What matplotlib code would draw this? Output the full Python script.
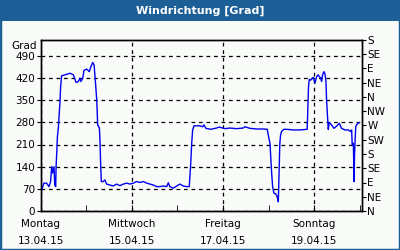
import matplotlib
matplotlib.use("Agg")
import matplotlib.pyplot as plt
from matplotlib.patches import Rectangle
from matplotlib.ticker import MultipleLocator

# time in hours since 13.04.15 00:00, wind direction in degrees (unwrapped)
hours = [0.5, 1.7, 3.1, 4.4, 5.2, 5.8, 6.3, 7.0, 7.4, 7.9, 8.1, 8.4, 8.8, 9.3, 9.8,
         10.2, 10.5, 11.0, 12.8, 15.4, 17.2, 18.6, 19.8, 20.7, 21.1, 22.1, 22.8,
         24.2, 25.6, 26.3, 27.4, 28.1, 28.6, 29.5, 30.0, 30.9, 31.2, 31.6, 31.9,
         32.9, 33.8, 34.7, 36.5, 38.2, 40.0, 41.7, 43.5, 45.3, 47.0, 48.7, 50.5,
         52.3, 54.0, 55.8, 59.3, 61.0, 62.8, 64.5, 66.3, 67.2, 68.0, 69.8, 71.6,
         73.3, 75.0, 76.8, 78.2, 78.9, 79.5, 80.0, 80.7, 83.8, 85.3, 85.9, 87.0,
         89.5, 92.6, 94.0, 97.0, 99.6, 103.2, 106.6, 107.5, 110.2, 113.7, 117.2,
         119.3, 119.8, 120.7, 121.6, 122.1, 122.8, 123.8, 124.5, 125.1, 125.3,
         125.6, 125.9, 126.3, 126.8, 128.0, 129.5, 132.9, 136.5, 140.3, 140.7,
         141.0, 141.4, 142.1, 142.8, 143.5, 144.4, 145.3, 146.1, 146.6, 147.4,
         147.9, 148.4, 149.1, 149.6, 150.2, 150.5, 151.0, 151.4, 151.9, 153.1,
         154.4, 155.8, 157.2, 158.4, 160.2, 161.9, 163.2, 163.7, 164.0, 164.6,
         164.9, 165.0, 165.2, 165.6, 165.9, 166.3, 167.1, 167.7]
direction = [66, 88, 88, 77, 93, 140, 120, 140, 82, 77, 140, 177, 235, 262, 310,
             351, 393, 427, 430, 435, 430, 406, 409, 420, 409, 418, 444,
             448, 440, 454, 469, 461, 425, 351, 272, 262, 224, 140, 93,
             93, 98, 85, 82, 79, 85, 80, 85, 88, 85, 88, 93,
             90, 93, 88, 82, 77, 77, 79, 77, 89, 77, 72, 79,
             85, 79, 77, 77, 140, 214, 256, 269, 269, 266, 272, 261,
             258, 262, 265, 260, 262, 260, 262, 266, 261, 259, 259,
             258, 240, 214, 119, 77, 56, 54, 45, 29, 77,
             140, 214, 240, 251, 258, 258, 256, 256, 258, 330,
             393, 416, 413, 418, 422, 404, 425, 430, 425, 420,
             409, 430, 440, 435, 409, 351, 298, 258, 279, 272,
             261, 268, 277, 261, 256, 256, 251, 256, 209, 214,
             119, 93, 172, 235, 267, 272, 277, 279]

day_ticks = [0, 2, 4, 6]
day_labels = ["Montag\n13.04.15", "Mittwoch\n15.04.15", "Freitag\n17.04.15", "Sonntag\n19.04.15"]
grad_ticks = [0, 70, 140, 210, 280, 350, 420, 490]
compass = ["N", "NE", "E", "SE", "S", "SW", "W", "NW", "N", "NE", "E", "SE", "S"]

blue = "#1c5f96"
bg = "#f8fbf8"
fs = 7.5

fig = plt.figure(figsize=(4, 2.5), dpi=100, facecolor=bg)
fig.patches.append(Rectangle((0, 1 - 21 / 250), 1, 21 / 250, transform=fig.transFigure,
                             facecolor=blue, edgecolor="none", zorder=0))
fig.patches.append(Rectangle((0, 0), 1, 1, transform=fig.transFigure, fill=False,
                             edgecolor=blue, linewidth=2.5, zorder=5))
fig.text(0.5, 1 - 10.5 / 250, "Windrichtung [Grad]", color="white", fontsize=8,
         fontweight="bold", ha="center", va="center")

ax = fig.add_axes([40.7 / 400, 1 - 211 / 250, 321 / 400, 171 / 250])
ax.set_facecolor(bg)
days = [h / 24 for h in hours]
ax.plot(days, direction, color="#0000ee", linewidth=1.0, zorder=3)

ax.set_xlim(0, 169 / 24)
ax.set_ylim(0, 540)
ax.set_xticks(day_ticks)
ax.set_xticklabels(day_labels, fontsize=fs, linespacing=1.85)
ax.xaxis.set_minor_locator(MultipleLocator(1))
ax.tick_params(axis="x", which="both", direction="in", length=4, pad=6)
ax.set_yticks(grad_ticks)
ax.set_yticklabels([str(v) for v in grad_ticks], fontsize=fs)
ax.tick_params(axis="y", direction="out", length=3, pad=1)
ax.grid(True, color="black", linestyle=(0, (3, 3)), linewidth=0.9)
ax.text(-0.012, 1 - 6 / 171, "Grad", transform=ax.transAxes, fontsize=fs,
        ha="right", va="center")

ax2 = ax.twinx()
ax2.set_ylim(0, 540)
ax2.set_yticks(range(0, 541, 45))
ax2.set_yticklabels(compass, fontsize=fs)
ax2.tick_params(axis="y", direction="out", length=3, pad=1)

for a in (ax, ax2):
    for s in a.spines.values():
        s.set_linewidth(1)
        s.set_color("black")

fig.savefig("out.png", dpi=100, facecolor=bg)
